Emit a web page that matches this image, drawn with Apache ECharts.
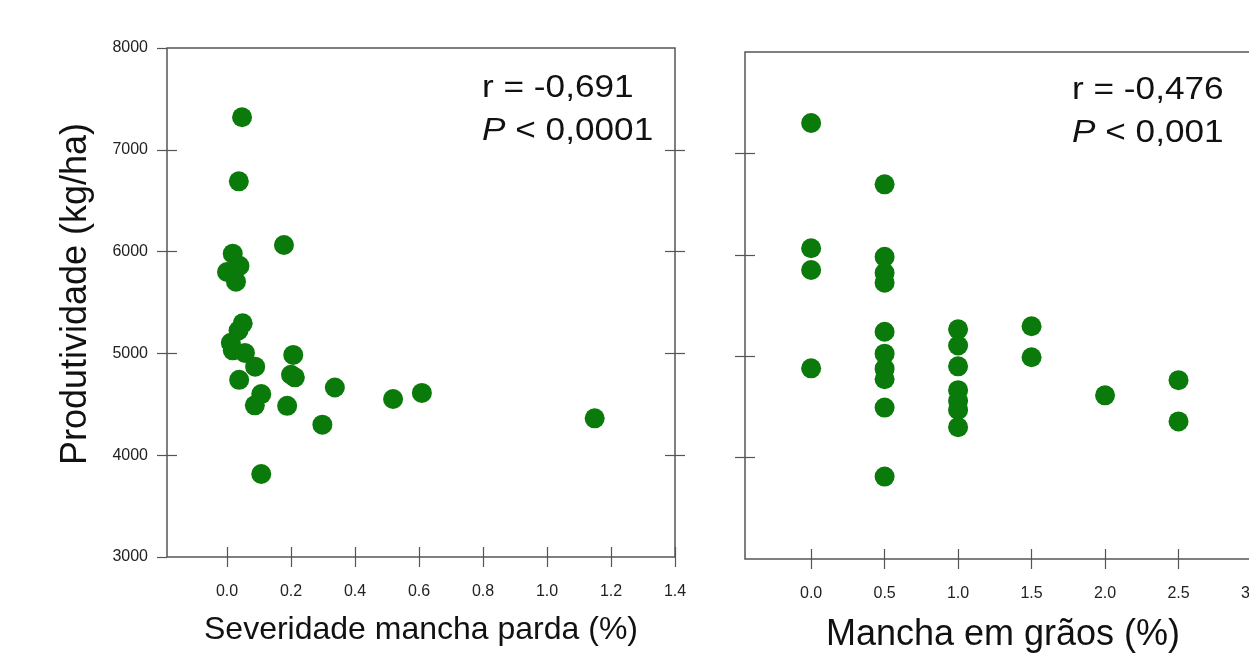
<!DOCTYPE html>
<html><head><meta charset="utf-8">
<script src="https://cdn.jsdelivr.net/npm/echarts@6/dist/echarts.min.js"></script>
<style>html,body{margin:0;padding:0;background:#fff}#c{width:1249px;height:655px}</style>
</head><body><div id="c"></div>
<script>
// Left panel: Severidade mancha parda (%) vs Produtividade (kg/ha)
const sevX = [0.047, 0.037, 0.178, 0.018, 0.039, 0.0, 0.028, 0.049, 0.036, 0.012, 0.018, 0.056, 0.088,
              0.038, 0.107, 0.087, 0.207, 0.200, 0.212, 0.188, 0.337, 0.298, 0.519, 0.609, 1.149, 0.107];
const sevY = [7320, 6690, 6065, 5980, 5860, 5800, 5705, 5295, 5225, 5105, 5030, 5005, 4870,
              4740, 4600, 4490, 4985, 4790, 4765, 4485, 4665, 4300, 4552, 4612, 4362, 3815];
// Right panel: Mancha em grãos (%) vs Produtividade (kg/ha)
const grainX = [0, 0, 0, 0,
                0.5, 0.5, 0.5, 0.5, 0.5, 0.5, 0.5, 0.5, 0.5, 0.5,
                1, 1, 1, 1, 1, 1, 1,
                1.5, 1.5, 2, 2.5, 2.5];
const grainY = [7300, 6065, 5850, 4880,
                6695, 5980, 5823, 5724, 5241, 5025, 4877, 4773, 4493, 3813,
                5265, 5105, 4900, 4665, 4560, 4470, 4300,
                5295, 4990, 4614, 4764, 4357];
const sevTicks = [0, 0.2, 0.4, 0.6, 0.8, 1.0, 1.2, 1.4];
const grainTicks = [0, 0.5, 1, 1.5, 2, 2.5, 3];
const yTicks = [3000, 4000, 5000, 6000, 7000, 8000];
const yInnerTicks = [4000, 5000, 6000, 7000];
const stats = [['r = -0,691', '0,0001'], ['r = -0,476', '0,001']];
const titles = ['Produtividade (kg/ha)', 'Severidade mancha parda (%)', 'Mancha em grãos (%)'];

const FONT = '"Liberation Sans", Arial, sans-serif';
const LINE = '#555';
const DOT = '#0a7a0a';

function tickAxis(grid, pos, vals, inside, range, labelVals, fmt, margin) {
  return {
    type: 'value', gridIndex: grid, position: pos, min: range[0], max: range[1],
    axisLine: { show: false, onZero: false },
    splitLine: { show: false },
    axisTick: { show: true, inside: inside, length: 10, customValues: vals,
                lineStyle: { color: LINE, width: 1.2 } },
    axisLabel: labelVals ? { show: true, customValues: labelVals, formatter: fmt, margin: margin,
                fontSize: 16, fontFamily: FONT, color: '#222' } : { show: false }
  };
}
const xr0 = [-0.1875, 1.4], xr1 = [-0.45, 3.0], yr = [3000, 8000];
const fx1 = v => v.toFixed(1), fy = v => String(v);

const option = {
  animation: false,
  backgroundColor: '#fff',
  grid: [
    { left: 167, top: 48, width: 508, height: 509, outerBoundsMode: 'none', containLabel: false,
      show: true, borderColor: LINE, borderWidth: 1.5, backgroundColor: 'transparent' },
    { left: 745, top: 52, width: 507, height: 507, outerBoundsMode: 'none', containLabel: false,
      show: true, borderColor: LINE, borderWidth: 1.5, backgroundColor: 'transparent' }
  ],
  xAxis: [
    tickAxis(0, 'bottom', sevTicks, false, xr0, sevTicks, fx1, 27),
    tickAxis(0, 'bottom', sevTicks, true, xr0),
    tickAxis(1, 'bottom', grainTicks, false, xr1, grainTicks, fx1, 27),
    tickAxis(1, 'bottom', grainTicks, true, xr1)
  ],
  yAxis: [
    tickAxis(0, 'left', yTicks, false, yr, yTicks, fy, 19),
    tickAxis(0, 'left', yInnerTicks, true, yr),
    tickAxis(0, 'right', yInnerTicks, false, yr),
    tickAxis(0, 'right', yInnerTicks, true, yr),
    tickAxis(1, 'left', yInnerTicks, false, yr),
    tickAxis(1, 'left', yInnerTicks, true, yr)
  ],
  series: [
    { type: 'scatter', xAxisIndex: 0, yAxisIndex: 0, symbolSize: 20, itemStyle: { color: DOT, opacity: 1 },
      data: sevX.map((x, i) => [x, sevY[i]]) },
    { type: 'scatter', xAxisIndex: 2, yAxisIndex: 4, symbolSize: 20, itemStyle: { color: DOT, opacity: 1 },
      data: grainX.map((x, i) => [x, grainY[i]]) }
  ],
  graphic: [
    { type: 'text', x: 482, y: 88, scaleX: 1.1, style: { text: stats[0][0], font: '32px ' + FONT, fill: '#111', textVerticalAlign: 'middle' } },
    { type: 'text', x: 482, y: 131, scaleX: 1.1, style: { text: '{i|P} < ' + stats[0][1], fontSize: 32, fontFamily: FONT, fill: '#111', textVerticalAlign: 'middle',
        rich: { i: { fontStyle: 'italic', fontSize: 32, fontFamily: FONT, fill: '#111' } } } },
    { type: 'text', x: 1072, y: 90, scaleX: 1.1, style: { text: stats[1][0], font: '32px ' + FONT, fill: '#111', textVerticalAlign: 'middle' } },
    { type: 'text', x: 1072, y: 133, scaleX: 1.1, style: { text: '{i|P} < ' + stats[1][1], fontSize: 32, fontFamily: FONT, fill: '#111', textVerticalAlign: 'middle',
        rich: { i: { fontStyle: 'italic', fontSize: 32, fontFamily: FONT, fill: '#111' } } } },
    { type: 'text', x: 76, y: 294, rotation: Math.PI / 2, style: { text: titles[0], font: '36px ' + FONT, fill: '#111', textAlign: 'center', textVerticalAlign: 'middle' } },
    { type: 'text', x: 421, y: 630, style: { text: titles[1], font: '32px ' + FONT, fill: '#111', textAlign: 'center', textVerticalAlign: 'middle' } },
    { type: 'text', x: 1003, y: 635, style: { text: titles[2], font: '36px ' + FONT, fill: '#111', textAlign: 'center', textVerticalAlign: 'middle' } }
  ]
};
echarts.init(document.getElementById('c')).setOption(option);
</script></body></html>
